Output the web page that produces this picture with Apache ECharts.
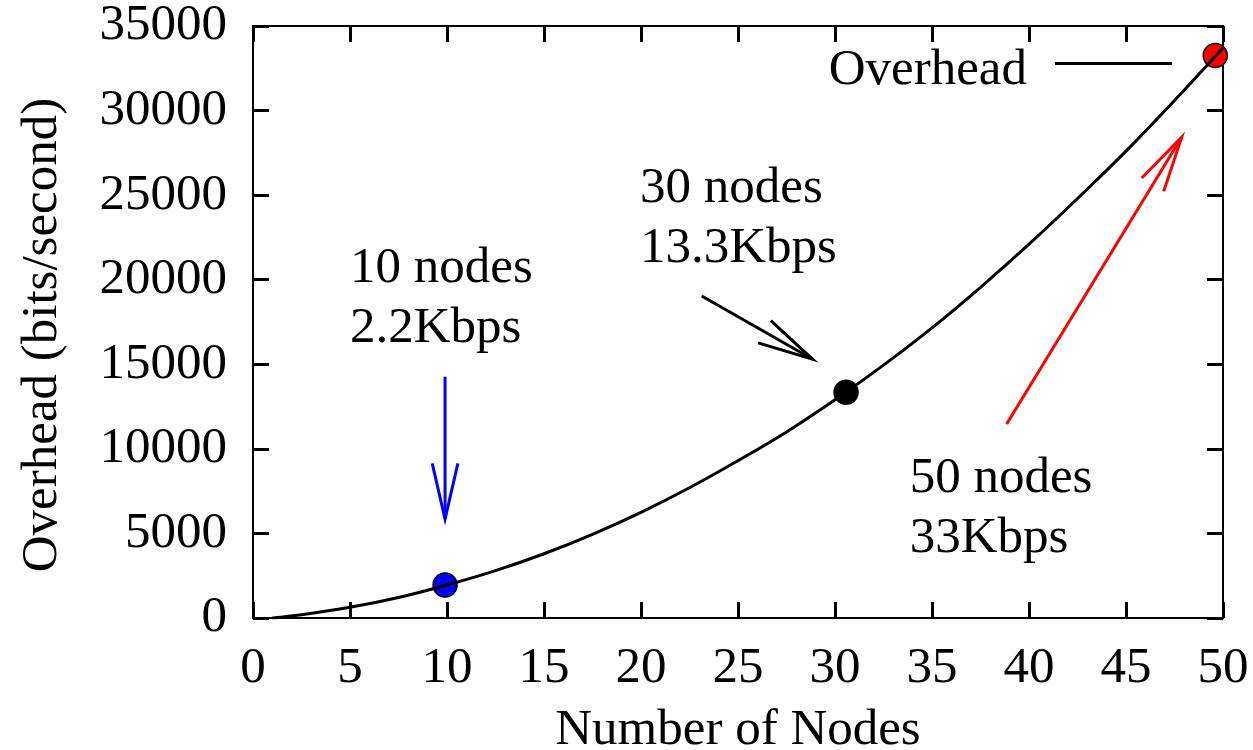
<!DOCTYPE html>
<html><head><meta charset="utf-8">
<script src="https://cdn.jsdelivr.net/npm/echarts@6/dist/echarts.min.js"></script>
<style>html,body{margin:0;padding:0;background:#fff}#c{width:1253px;height:750px}</style>
</head><body><div id="c"></div>
<script>
// ---- data ----
const nodes    = [1, 2.5, 5, 7.5, 10, 12.5, 15, 17.5, 20, 22.5, 25, 27.5, 30, 32.5, 35, 37.5, 40, 42.5, 45, 47.5, 50];
const overhead = [0, 190, 630, 1210, 1950, 2800, 3800, 4950, 6250, 7700, 9300, 11000, 12900, 14950, 17150, 19550, 22100, 24800, 27600, 30600, 33700];
const seriesName = 'Overhead';
const highlightX = [9.9, 30.57, 49.6];
const highlightY = [1950, 13350, 33250];
const arrowFromX = [9.9, 23.13, 38.85];
const arrowFromY = [14266, 19037, 11470];
const arrowToX   = [9.9, 28.85, 47.87];
const arrowToY   = [5853, 15295, 28420];
const noteText = ['10 nodes', '2.2Kbps', '30 nodes', '13.3Kbps', '50 nodes', '33Kbps'];
const noteX    = [5.0, 5.0, 19.95, 19.95, 33.85, 33.85];
const noteY    = [20634, 17087, 25363, 21816, 8218, 4671];
const xAxisTitle = 'Number of Nodes';
const yAxisTitle = 'Overhead (bits/second)';

// ---- styles ----
const FONT = '"Liberation Serif", "Times New Roman", serif';
const FS = 51;
const markColors = ['#0000ff', '#000000', '#ff0000'];

const chart = echarts.init(document.getElementById('c'), null, {renderer: 'canvas'});

function axisCommon() {
  return {
    axisLine: {show: true, onZero: false, lineStyle: {color: '#000', width: 2}},
    axisTick: {show: true, inside: true, length: 16, lineStyle: {color: '#000', width: 3}},
    splitLine: {show: false}
  };
}

const option = {
  backgroundColor: '#fff',
  animation: false,
  grid: {left: 253, right: 30, top: 26, bottom: 132, containLabel: false, outerBoundsMode: 'none'},
  legend: {
    data: [{name: seriesName, icon: 'rect'}],
    right: 81, top: 45, padding: 0,
    itemWidth: 117, itemHeight: 3,
    align: 'right',
    formatter: name => '{t|' + name + '}',
    textStyle: {
      fontFamily: FONT, fontSize: FS, color: '#000',
      rich: {t: {fontFamily: FONT, fontSize: FS, color: '#000', padding: [14, 23, 0, 0]}}
    }
  },
  xAxis: [
    Object.assign({
      type: 'value', min: 0, max: 50, interval: 5, position: 'bottom',
      name: xAxisTitle, nameLocation: 'middle', nameGap: 87,
      nameTextStyle: {fontFamily: FONT, fontSize: FS, color: '#000'},
      axisLabel: {fontFamily: FONT, fontSize: FS, color: '#000', margin: 25}
    }, axisCommon()),
    Object.assign({
      type: 'value', min: 0, max: 50, interval: 5, position: 'top',
      axisLabel: {show: false}
    }, axisCommon())
  ],
  yAxis: [
    Object.assign({
      type: 'value', min: 0, max: 35000, interval: 5000, position: 'left',
      name: yAxisTitle, nameLocation: 'middle', nameGap: 185, nameRotate: 90,
      nameTextStyle: {fontFamily: FONT, fontSize: FS, color: '#000', padding: [0, 26, 0, 0]},
      axisLabel: {fontFamily: FONT, fontSize: FS, color: '#000', margin: 26, padding: [12, 0, 0, 0],
                  formatter: v => String(v)}
    }, axisCommon()),
    Object.assign({
      type: 'value', min: 0, max: 35000, interval: 5000, position: 'right',
      axisLabel: {show: false}
    }, axisCommon())
  ],
  series: [
    {
      name: 'points', type: 'scatter', z: 2, silent: true,
      symbol: 'circle', symbolSize: 24,
      data: highlightX.map((x, i) => ({
        value: [x, highlightY[i]],
        itemStyle: {color: markColors[i], borderColor: '#000', borderWidth: 1.5, opacity: 1}
      }))
    },
    {
      name: seriesName, type: 'line', z: 3, smooth: 0.4, symbol: 'none', silent: true,
      lineStyle: {color: '#000', width: 3},
      itemStyle: {color: '#000'},
      data: nodes.map((n, i) => [n, overhead[i]])
    },
    {
      name: 'arrows', type: 'custom', z: 4, silent: true, clip: false,
      data: arrowFromX.map((x, i) => [x, arrowFromY[i], arrowToX[i], arrowToY[i], i]),
      renderItem: function (params, api) {
        const p1 = api.coord([api.value(0), api.value(1)]);
        const p2 = api.coord([api.value(2), api.value(3)]);
        const col = markColors[api.value(4)];
        const ang = Math.atan2(p1[1] - p2[1], p1[0] - p2[0]);
        const L = 57, a = 13 * Math.PI / 180;
        const h1 = [p2[0] + L * Math.cos(ang + a), p2[1] + L * Math.sin(ang + a)];
        const h2 = [p2[0] + L * Math.cos(ang - a), p2[1] + L * Math.sin(ang - a)];
        return {
          type: 'group',
          children: [
            {type: 'line', shape: {x1: p1[0], y1: p1[1], x2: p2[0], y2: p2[1]},
             style: {stroke: col, lineWidth: 3}},
            {type: 'polyline', shape: {points: [h1, p2, h2]},
             style: {stroke: col, lineWidth: 3, fill: null}}
          ]
        };
      }
    },
    {
      name: 'notes', type: 'custom', z: 5, silent: true, clip: false,
      data: noteX.map((x, i) => [x, noteY[i], i]),
      renderItem: function (params, api) {
        const p = api.coord([api.value(0), api.value(1)]);
        return {
          type: 'text', x: p[0], y: p[1],
          style: {text: noteText[api.value(2)], font: FS + 'px ' + FONT, fill: '#000',
                  align: 'left', verticalAlign: 'middle'}
        };
      }
    }
  ]
};
chart.setOption(option);
</script>
</body></html>
